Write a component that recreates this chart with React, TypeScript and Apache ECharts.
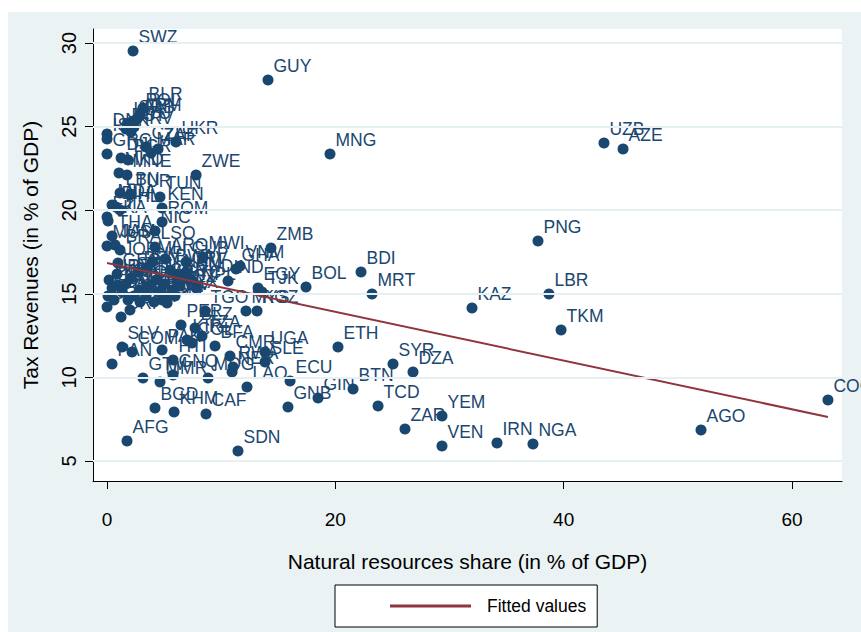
import React, { useEffect, useRef } from "react";
import * as echarts from "echarts";

const FONT = "'Liberation Sans', Arial, Helvetica, sans-serif";

const codes = [
  "SWZ", "GUY", "BLR", "POL", "ARM", "SRB", "LVA", "LTU", "EST", "HRV",
  "DNK", "ISL", "UKR", "ZAF", "MAR", "CZE", "GRC", "DJI", "BGR", "ZWE",
  "MKD", "MNE", "TUN", "LBN", "TUR", "MDA", "BIH", "PHL", "KEN", "ROM",
  "NIC", "FJI", "LKA", "THA", "MUS", "JAM", "BRA", "JOR", "LSO", "ARG",
  "MWI", "CUB", "GEO", "URY", "PRY", "LCA", "BRB", "TTO", "CRI", "DOM",
  "SLB", "IDN", "SEN", "BEN", "CIV", "MLI", "BWA", "NAM", "CPV", "HND",
  "SYC", "MOZ", "GAB", "TLS", "GMB", "GRD", "VCT", "ALB", "SUR", "MDV",
  "WSM", "TON", "VUT", "DMA", "KNA", "CHL", "MEX", "NPL", "IND", "GHA",
  "VNM", "EGY", "TJK", "TGO", "MYS", "KGZ", "BOL", "PER", "BLZ", "TZA",
  "COL", "BFA", "CMR", "RWA", "NER", "UGA", "SLE", "LAO", "ECU", "GNB",
  "GIN", "BTN", "ETH", "SYR", "DZA", "TCD", "ZAR", "YEM", "VEN", "IRN",
  "NGA", "SDN", "KAZ", "TKM", "LBR", "MRT", "BDI", "ZMB", "PNG", "MNG",
  "UZB", "AZE", "COG", "AGO", "SLV", "PAN", "COM", "PAK", "HTI", "KIR",
  "GTM", "MMR", "GNQ", "MDG", "KHM", "BGD", "CAF", "AFG",
];

const nrShare = [
  2.28, 14.1, 3.15, 2.89, 2.63, 2.28, 1.84, 2.36, 1.66, 2.1,
  0.0, 0.0, 6.04, 4.47, 3.85, 3.42, 0.0, 1.23, 1.84, 7.8,
  1.05, 1.75, 4.64, 1.14, 2.01, 0.44, 0.79, 1.14, 4.82, 4.82,
  4.2, 0.0, 0.09, 0.44, 0.0, 0.7, 1.14, 0.96, 4.2, 5.08,
  8.41, 6.92, 0.88, 0.18, 0.44, 0.09, 0.0, 0.61, 1.23, 2.01,
  1.31, 1.66, 2.1, 2.72, 3.42, 3.94, 5.52, 6.22, 6.92, 7.27,
  6.39, 5.69, 4.99, 4.29, 3.59, 2.89, 2.36, 3.42, 4.47, 5.17,
  4.12, 4.82, 2.89, 1.84, 0.96, 5.26, 5.96, 7.8, 10.6, 11.3,
  11.65, 13.23, 13.58, 8.58, 12.17, 13.14, 17.43, 6.48, 7.71, 8.32,
  7.45, 9.46, 10.77, 11.04, 10.95, 13.84, 13.84, 12.26, 16.03, 15.85,
  18.48, 21.55, 20.23, 25.05, 26.8, 23.74, 26.1, 29.34, 29.34, 34.16,
  37.31, 11.47, 31.97, 39.77, 38.71, 23.21, 22.25, 14.36, 37.75, 19.53,
  43.53, 45.2, 63.15, 52.03, 1.31, 0.44, 2.19, 4.82, 5.78, 7.01,
  3.15, 4.64, 5.78, 8.85, 5.87, 4.2, 8.67, 1.75,
];

const taxRev = [
  29.52, 27.79, 26.11, 25.75, 25.45, 25.33, 25.22, 24.98, 24.86, 24.68,
  24.56, 24.26, 24.08, 23.66, 23.42, 23.78, 23.36, 23.12, 23.0, 22.11,
  22.22, 22.11, 20.79, 21.03, 20.91, 20.31, 20.19, 20.01, 20.13, 19.29,
  18.76, 19.59, 19.35, 18.46, 17.86, 17.92, 17.62, 16.84, 17.8, 17.08,
  17.2, 16.9, 16.18, 15.83, 15.35, 14.87, 14.21, 14.63, 13.61, 14.03,
  15.11, 15.59, 15.94, 16.3, 16.54, 16.9, 16.42, 16.12, 16.3, 15.83,
  15.47, 15.23, 15.59, 15.83, 15.47, 15.23, 14.87, 14.87, 15.11, 14.75,
  14.51, 14.63, 14.51, 14.63, 15.53, 14.45, 14.87, 15.35, 15.77, 16.48,
  16.66, 15.35, 15.11, 13.97, 13.97, 13.97, 15.41, 13.13, 12.95, 12.48,
  12.06, 11.88, 11.28, 10.62, 10.32, 11.52, 10.92, 9.43, 9.78, 8.23,
  8.77, 9.31, 11.82, 10.8, 10.32, 8.29, 6.91, 7.69, 5.9, 6.08,
  6.02, 5.6, 14.15, 12.83, 14.99, 14.99, 16.3, 17.74, 18.16, 23.36,
  24.02, 23.66, 8.65, 6.85, 11.82, 10.8, 11.52, 11.64, 11.04, 12.24,
  9.96, 9.72, 10.14, 9.96, 7.93, 8.17, 7.81, 6.2,
];

const fitX = [0, 63.15];
const fitY = [16.84, 7.63];

const xTicks = [0, 20, 40, 60];
const yTicks = [5, 10, 15, 20, 25, 30];

export default function App() {
  const ref = useRef<HTMLDivElement>(null);

  useEffect(() => {
    if (!ref.current) return;
    const chart = echarts.init(ref.current, undefined, { renderer: "svg" });
    const points = codes.map((c, i) => ({ name: c, value: [nrShare[i], taxRev[i]] }));
    const fit = fitX.map((x, i) => [x, fitY[i]]);

    chart.setOption({
      animation: false,
      backgroundColor: "transparent",
      textStyle: { fontFamily: FONT },
      grid: {
        left: 93,
        right: 19,
        top: 29,
        bottom: 151,
        show: true,
        backgroundColor: "#ffffff",
        borderWidth: 0,
        containLabel: false,
      },
      legend: {
        show: true,
        left: 335,
        top: 585,
        orient: "horizontal",
        padding: [12, 11, 12, 55],
        itemWidth: 81,
        itemHeight: 3,
        backgroundColor: "#ffffff",
        borderColor: "#000000",
        borderWidth: 1,
        borderRadius: 0,
        selectedMode: false,
        data: [{ name: "Fitted values", icon: "rect" }],
        textStyle: {
          fontSize: 17.5,
          color: "#000000",
          fontFamily: FONT,
          padding: [0, 0, 0, 11],
          lineHeight: 18,
        },
      },
      xAxis: {
        type: "value",
        min: -1.23,
        max: 64.38,
        name: "Natural resources share (in % of GDP)",
        nameLocation: "middle",
        nameGap: 70,
        nameTextStyle: { fontSize: 21, color: "#000000", fontFamily: FONT },
        axisLine: { show: true, onZero: false, lineStyle: { color: "#000000", width: 1 } },
        axisTick: { show: true, length: 8, lineStyle: { color: "#000000" }, customValues: xTicks },
        axisLabel: { customValues: xTicks, fontSize: 19, color: "#000000", margin: 29, fontFamily: FONT },
        splitLine: { show: false },
      },
      yAxis: {
        type: "value",
        min: 3.8,
        max: 30.84,
        name: "Tax Revenues (in % of GDP)",
        nameLocation: "middle",
        nameGap: 52,
        nameRotate: 90,
        nameTextStyle: { fontSize: 21, color: "#000000", fontFamily: FONT },
        axisLine: { show: true, onZero: false, lineStyle: { color: "#000000", width: 1 } },
        axisTick: { show: true, length: 8, lineStyle: { color: "#000000" }, customValues: yTicks },
        axisLabel: { customValues: yTicks, rotate: 90, fontSize: 20, color: "#000000", margin: 14, fontFamily: FONT },
        splitLine: { show: false },
      },
      series: [
        {
          name: "gridlines",
          type: "scatter",
          data: [],
          z: 1,
          silent: true,
          markLine: {
            silent: true,
            symbol: "none",
            animation: false,
            label: { show: false },
            lineStyle: { color: "#e6eff1", width: 2, type: "solid" },
            data: yTicks.map((v) => ({ yAxis: v })),
          },
        },
        {
          name: "Tax Revenues",
          type: "scatter",
          data: points,
          symbol: "circle",
          symbolSize: 11,
          z: 2,
          itemStyle: { color: "#1a476f", opacity: 1 },
          label: {
            show: true,
            formatter: "{b}",
            position: "right",
            distance: 0,
            offset: [0, -14],
            color: "#1a476f",
            fontSize: 17.5,
            fontFamily: FONT,
          },
          emphasis: { disabled: true },
        },
        {
          name: "Fitted values",
          type: "line",
          data: fit,
          z: 3,
          symbol: "none",
          showSymbol: false,
          color: "#90353b",
          lineStyle: { color: "#90353b", width: 2 },
          itemStyle: { color: "#90353b" },
          emphasis: { disabled: true },
        },
      ],
    });

    return () => chart.dispose();
  }, []);

  return (
    <div style={{ position: "fixed", left: 0, top: 0, width: 861, height: 632, background: "#ffffff" }}>
      <div style={{ position: "absolute", left: 8, top: 12, right: 0, bottom: 0, background: "#eaf2f3" }} />
      <div ref={ref} style={{ position: "absolute", left: 0, top: 0, width: 861, height: 632 }} />
    </div>
  );
}
